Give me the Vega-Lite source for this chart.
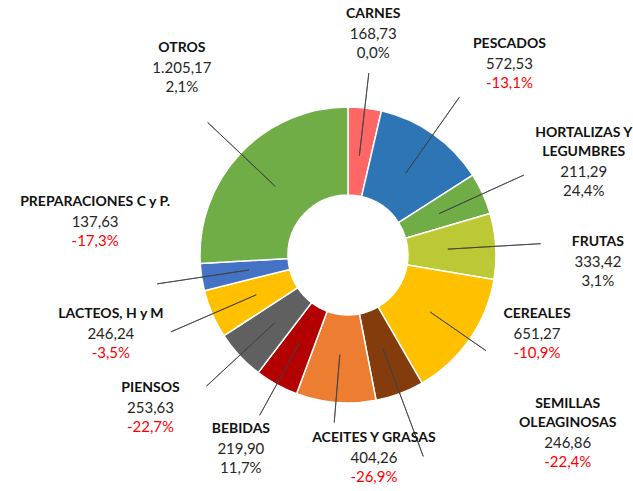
{
  "$schema": "https://vega.github.io/schema/vega-lite/v6.json",
  "width": 570,
  "height": 472,
  "autosize": {"type": "none"},
  "padding": {"left": 63, "top": 19, "right": 0, "bottom": 0},
  "background": "#ffffff",
  "config": {
    "view": {"stroke": null},
    "locale": {"number": {"decimal": ",", "thousands": ".", "grouping": [3], "currency": ["", " €"], "minus": "-", "percent": "%"}},
    "text": {"font": "Lato", "fontSize": 15, "lineHeight": 19}
  },
  "data": {"values": [
    {"cat": "CARNES", "ord": 1, "value": 168.73, "pct": 0.0},
    {"cat": "PESCADOS", "ord": 2, "value": 572.53, "pct": -0.131},
    {"cat": "HORTALIZAS Y\nLEGUMBRES", "ord": 3, "value": 211.29, "pct": 0.244},
    {"cat": "FRUTAS", "ord": 4, "value": 333.42, "pct": 0.031},
    {"cat": "CEREALES", "ord": 5, "value": 651.27, "pct": -0.109},
    {"cat": "SEMILLAS\nOLEAGINOSAS", "ord": 6, "value": 246.86, "pct": -0.224},
    {"cat": "ACEITES Y GRASAS", "ord": 7, "value": 404.26, "pct": -0.269},
    {"cat": "BEBIDAS", "ord": 8, "value": 219.90, "pct": 0.117},
    {"cat": "PIENSOS", "ord": 9, "value": 253.63, "pct": -0.227},
    {"cat": "LACTEOS, H y M", "ord": 10, "value": 246.24, "pct": -0.035},
    {"cat": "PREPARACIONES C y P.", "ord": 11, "value": 137.63, "pct": -0.173},
    {"cat": "OTROS", "ord": 12, "value": 1205.17, "pct": 0.021}
  ]},
  "transform": [
    {"window": [{"op": "sum", "field": "value", "as": "cum"}], "sort": [{"field": "ord"}], "frame": [null, 0]},
    {"calculate": "datum.cum - datum.value", "as": "start"},
    {"calculate": "datum.cum - datum.value / 2", "as": "mid"}
  ],
  "encoding": {
    "theta": {"field": "mid", "type": "quantitative", "stack": null}
  },
  "layer": [
    {
      "mark": {"type": "arc", "radius": 148, "radius2": 60, "stroke": "#ffffff", "strokeWidth": 1.5},
      "encoding": {
        "theta": {"field": "cum", "type": "quantitative", "stack": null},
        "theta2": {"field": "start"},
        "color": {"field": "cat", "type": "nominal", "legend": null,
          "scale": {
            "domain": ["CARNES", "PESCADOS", "HORTALIZAS Y\nLEGUMBRES", "FRUTAS", "CEREALES", "SEMILLAS\nOLEAGINOSAS", "ACEITES Y GRASAS", "BEBIDAS", "PIENSOS", "LACTEOS, H y M", "PREPARACIONES C y P.", "OTROS"],
            "range": ["#FF6666", "#2E75B6", "#70AD47", "#BCC935", "#FFC000", "#843C0C", "#ED7D31", "#B30000", "#606060", "#FFC000", "#4472C4", "#70AD47"]
          }}
      }
    },
    {
      "transform": [{"filter": {"field": "ord", "oneOf": [1, 8]}}],
      "mark": {"type": "arc", "radius": 183, "radius2": 100, "fill": "transparent", "stroke": "#404040", "strokeWidth": 0.8},
      "encoding": {"theta2": {"field": "mid"}}
    },
    {
      "transform": [{"filter": {"field": "ord", "oneOf": [2, 3, 4, 9, 10, 11, 12]}}],
      "mark": {"type": "arc", "radius": 193, "radius2": 100, "fill": "transparent", "stroke": "#404040", "strokeWidth": 0.8},
      "encoding": {"theta2": {"field": "mid"}}
    },
    {
      "transform": [{"filter": {"field": "ord", "oneOf": [5, 7]}}],
      "mark": {"type": "arc", "radius": 168, "radius2": 100, "fill": "transparent", "stroke": "#404040", "strokeWidth": 0.8},
      "encoding": {"theta2": {"field": "mid"}}
    },
    {
      "transform": [{"filter": {"field": "ord", "equal": 6}}],
      "mark": {"type": "arc", "radius": 215, "radius2": 100, "fill": "transparent", "stroke": "#404040", "strokeWidth": 0.8},
      "encoding": {"theta2": {"field": "mid"}}
    },
    {
      "transform": [{"filter": {"field": "ord", "oneOf": [1, 8]}}],
      "layer": [
        {"mark": {"type": "text", "radius": 222, "baseline": "bottom", "dy": -13, "fontSize": 14, "fontWeight": "bold", "lineBreak": "\n", "color": "#111111"},
         "encoding": {"text": {"field": "cat"}}},
        {"mark": {"type": "text", "radius": 222, "baseline": "middle", "color": "#262626"},
         "encoding": {"text": {"field": "value", "type": "quantitative", "format": ",.2f"}}},
        {"mark": {"type": "text", "radius": 222, "baseline": "top", "dy": 12},
         "encoding": {"text": {"field": "pct", "type": "quantitative", "format": ".1%"},
           "color": {"condition": {"test": "datum.pct < 0", "value": "#FF0000"}, "value": "#262626"}}}
      ]
    },
    {
      "transform": [{"filter": {"field": "ord", "oneOf": [2, 3, 4, 9, 10, 12]}}],
      "layer": [
        {"transform": [{"filter": "datum.ord != 3"}],
         "mark": {"type": "text", "radius": 250, "thetaOffset": 0.0873, "baseline": "bottom", "dy": -13, "fontSize": 14, "fontWeight": "bold", "lineBreak": "\n", "color": "#111111"},
         "encoding": {"text": {"field": "cat"}}},
        {"transform": [{"filter": "datum.ord == 3"}],
         "mark": {"type": "text", "radius": 250, "thetaOffset": 0.0873, "baseline": "bottom", "dy": -32, "fontSize": 14, "fontWeight": "bold", "lineBreak": "\n", "color": "#111111"},
         "encoding": {"text": {"field": "cat"}}},
        {"mark": {"type": "text", "radius": 250, "thetaOffset": 0.0873, "baseline": "middle", "color": "#262626"},
         "encoding": {"text": {"field": "value", "type": "quantitative", "format": ",.2f"}}},
        {"mark": {"type": "text", "radius": 250, "thetaOffset": 0.0873, "baseline": "top", "dy": 12},
         "encoding": {"text": {"field": "pct", "type": "quantitative", "format": ".1%"},
           "color": {"condition": {"test": "datum.pct < 0", "value": "#FF0000"}, "value": "#262626"}}}
      ]
    },
    {
      "transform": [{"filter": {"field": "ord", "equal": 11}}],
      "layer": [
        {"mark": {"type": "text", "radius": 255, "thetaOffset": 0.279, "baseline": "bottom", "dy": -13, "fontSize": 14, "fontWeight": "bold", "lineBreak": "\n", "color": "#111111"},
         "encoding": {"text": {"field": "cat"}}},
        {"mark": {"type": "text", "radius": 255, "thetaOffset": 0.279, "baseline": "middle", "color": "#262626"},
         "encoding": {"text": {"field": "value", "type": "quantitative", "format": ",.2f"}}},
        {"mark": {"type": "text", "radius": 255, "thetaOffset": 0.279, "baseline": "top", "dy": 12},
         "encoding": {"text": {"field": "pct", "type": "quantitative", "format": ".1%"},
           "color": {"condition": {"test": "datum.pct < 0", "value": "#FF0000"}, "value": "#262626"}}}
      ]
    },
    {
      "transform": [{"filter": {"field": "ord", "oneOf": [5, 7]}}],
      "layer": [
        {"mark": {"type": "text", "radius": 205, "thetaOffset": -0.209, "baseline": "bottom", "dy": -13, "fontSize": 14, "fontWeight": "bold", "lineBreak": "\n", "color": "#111111"},
         "encoding": {"text": {"field": "cat"}}},
        {"mark": {"type": "text", "radius": 205, "thetaOffset": -0.209, "baseline": "middle", "color": "#262626"},
         "encoding": {"text": {"field": "value", "type": "quantitative", "format": ",.2f"}}},
        {"mark": {"type": "text", "radius": 205, "thetaOffset": -0.209, "baseline": "top", "dy": 12},
         "encoding": {"text": {"field": "pct", "type": "quantitative", "format": ".1%"},
           "color": {"condition": {"test": "datum.pct < 0", "value": "#FF0000"}, "value": "#262626"}}}
      ]
    },
    {
      "transform": [{"filter": {"field": "ord", "equal": 6}}],
      "layer": [
        {"mark": {"type": "text", "radius": 289, "thetaOffset": -0.506, "baseline": "bottom", "dy": -32, "fontSize": 14, "fontWeight": "bold", "lineBreak": "\n", "color": "#111111"},
         "encoding": {"text": {"field": "cat"}}},
        {"mark": {"type": "text", "radius": 289, "thetaOffset": -0.506, "baseline": "middle", "color": "#262626"},
         "encoding": {"text": {"field": "value", "type": "quantitative", "format": ",.2f"}}},
        {"mark": {"type": "text", "radius": 289, "thetaOffset": -0.506, "baseline": "top", "dy": 12},
         "encoding": {"text": {"field": "pct", "type": "quantitative", "format": ".1%"},
           "color": {"condition": {"test": "datum.pct < 0", "value": "#FF0000"}, "value": "#262626"}}}
      ]
    }
  ]
}
